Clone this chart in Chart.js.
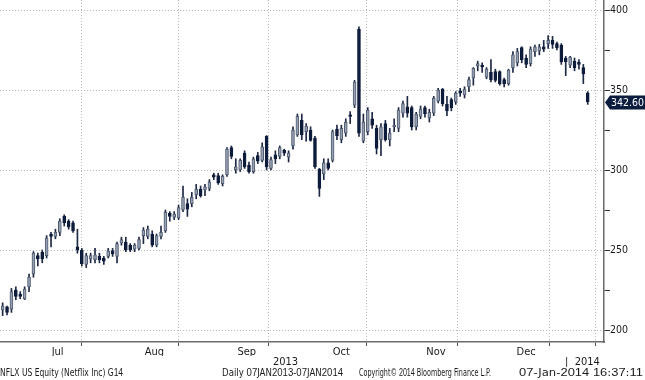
<!DOCTYPE html>
<html>
<head>
<meta charset="utf-8">
<script src="https://cdn.jsdelivr.net/npm/chart.js@4.4.1/dist/chart.umd.min.js"></script>
<style>
html,body{margin:0;padding:0;background:#fff;}
#wrap{position:relative;width:645px;height:380px;overflow:hidden;background:#fff;}
#c{position:absolute;left:0;top:0;}
.ft{position:absolute;top:367px;font:10px "Liberation Sans Narrow","DejaVu Sans Condensed",sans-serif;color:#1a1a1a;white-space:nowrap;line-height:12px;transform-origin:0 0;}
.ft .d{font-family:"Liberation Sans","DejaVu Sans",sans-serif;font-size:10px;}
</style>
</head>
<body>
<div id="wrap">
<canvas id="c" width="645" height="380"></canvas>
<div class="ft" data-l="0" data-w="123">NFLX US Equity (Netflix Inc) G14</div>
<div class="ft" data-l="222" data-w="121">Daily 07JAN2013-07JAN2014</div>
<div class="ft" data-l="359" data-w="132">Copyright© 2014 Bloomberg Finance L.P.</div>
<div class="ft" data-l="519" data-w="124">07-Jan-2014 16:37:11</div>
</div>
<script>
// ---- data ----
const dates = [
"2013-06-27","2013-06-28",
"2013-07-01","2013-07-02","2013-07-03","2013-07-05","2013-07-08","2013-07-09","2013-07-10","2013-07-11","2013-07-12","2013-07-15","2013-07-16","2013-07-17","2013-07-18","2013-07-19","2013-07-22","2013-07-23","2013-07-24","2013-07-25","2013-07-26","2013-07-29","2013-07-30","2013-07-31",
"2013-08-01","2013-08-02","2013-08-05","2013-08-06","2013-08-07","2013-08-08","2013-08-09","2013-08-12","2013-08-13","2013-08-14","2013-08-15","2013-08-16","2013-08-19","2013-08-20","2013-08-21","2013-08-22","2013-08-23","2013-08-26","2013-08-27","2013-08-28","2013-08-29","2013-08-30",
"2013-09-03","2013-09-04","2013-09-05","2013-09-06","2013-09-09","2013-09-10","2013-09-11","2013-09-12","2013-09-13","2013-09-16","2013-09-17","2013-09-18","2013-09-19","2013-09-20","2013-09-23","2013-09-24","2013-09-25","2013-09-26","2013-09-27","2013-09-30",
"2013-10-01","2013-10-02","2013-10-03","2013-10-04","2013-10-07","2013-10-08","2013-10-09","2013-10-10","2013-10-11","2013-10-14","2013-10-15","2013-10-16","2013-10-17","2013-10-18","2013-10-21","2013-10-22","2013-10-23","2013-10-24","2013-10-25","2013-10-28","2013-10-29","2013-10-30","2013-10-31",
"2013-11-01","2013-11-04","2013-11-05","2013-11-06","2013-11-07","2013-11-08","2013-11-11","2013-11-12","2013-11-13","2013-11-14","2013-11-15","2013-11-18","2013-11-19","2013-11-20","2013-11-21","2013-11-22","2013-11-25","2013-11-26","2013-11-27","2013-11-29",
"2013-12-02","2013-12-03","2013-12-04","2013-12-05","2013-12-06","2013-12-09","2013-12-10","2013-12-11","2013-12-12","2013-12-13","2013-12-16","2013-12-17","2013-12-18","2013-12-19","2013-12-20","2013-12-23","2013-12-24","2013-12-26","2013-12-27","2013-12-30","2013-12-31",
"2014-01-02","2014-01-03","2014-01-06","2014-01-07"];

const opens = [212.5,214.5,
213,225,222.5,219.5,227,235,246.5,248.5,246.5,260,258.5,261,271,268,267,252,250,241,244.5,244,246,245,
246,249.5,246,254.5,255,253,250.5,251,259,258.5,260,253,258.5,262,273,270.5,270,275,279,279,284.5,288,
287.5,288.5,297,296.5,291.5,297,314,300,300,310.5,303,299,309,306,321,301,309.5,308.5,312.5,308,
315,322,331,324,325,320,300.5,297.5,304.5,306,325.5,319,323,334.5,340.5,388,318,324,332,326,319,329,319,
327,326,335.5,339.5,339,327,333.5,339,332.5,335.5,343,350.5,341,344,342.5,349.5,347,352,357.5,365,
365.5,358,361,361.5,361.5,356.5,354,364,367,376.5,370,366.5,374,374.5,377,379,381,379,378,370,365.5,
368,367.5,364,348];
const highs = [217,215,
226,227,224,227,235,249,248,250,259,261,263,269.5,272,269,268,263,251,248,248,251,248,246,
251,251,255,258,258,254,254,258,264,265,262,260,265,275,274,274,278,290,282,286,291,290,
291,294,298,298,297,314,315,307,307,312,305,308,311,317,321.5,308,312,315,313,312,
327,335,335,329,327,321,301,307,307,325,328,328,332,336.5,356,389.5,335,339,336,328,329,331,326,
332,339,343,346,340,336,340,340,338,346,351,351,346,345,349,351,352,358,364,368,
367,364,369,363,362,357.5,363,374,376,377,372,377,378,378.5,381,384,383.5,380,379,371,371,
370,369,366,349];
const lows = [209,209.5,
211,219,219.5,219,224,233,240,242,245,252,257,259,265,263,261,248,240,239,242,242,242,241,
245,246,242,253,249,249,249,250,254,257,252,252,257,261,268,269,269,274,271,277,282,283,
284,287,294,291,290,296,307,298,299,301,298,298,304,305,300,300,304,307,309,305,
313,321,319,318,318,301,283.5,294,300,305,319,317,321,329,339,321,317,322,326,310,309,318,315,
324,324,333,333,325,325,332,333,330,334,342,340,334,337,341,346,345,349,353,362,
361,357,355,355,353,352,353,361,365,367,364,365,371,372,374,376,376,375,366,359,364,
362,363,354,341];
const closes = [215,211,
224,221,221,225.5,233,248,244.5,244.5,257.5,258.5,261,268,267,264.5,262,250,241.5,246.5,246.5,247,244,243,
249.5,247.5,254,256.5,250,250,253,256.5,262.5,263,253,259,261,273.5,271,272.5,276.5,283,275.5,283,288,284,
289.5,292.5,295.5,292,296,313,308.5,302,306,302,299,307,305.5,314.5,302,306.5,307,314,310.5,310.5,
325,333.5,322,327.5,318.5,302,288.5,304.5,301,324,321.5,326,330,333.5,355,323,330,337.5,328,313.5,327,319,323,
328,337.5,341.5,335.5,327,335,338,335,336,345,350,341.5,337,339,348,348,350.5,356.5,363.5,366.5,
364.5,363,356.5,356,354,354,362.5,372,374,369,366,375.5,377,377,375.5,381,378.5,376.5,367.5,367.5,370.5,
364,366,360,342.6];

// axis labelling
const monthLabels = ["Jul","Aug","Sep","Oct","Nov","Dec"];
const monthStarts = ["2013-07-01","2013-08-01","2013-09-03","2013-10-01","2013-11-01","2013-12-02","2014-01-02"];
const yearLabels = ["2013","|  2014"];
const priceTicks = [200,225,250,275,300,325,350,375,400];
const priceLabelStep = 50;

// ---- derived ----
const Y_MIN = 192.5, Y_MAX = 406.25;
const X_MIN = -0.6, X_MAX = 136.7;
const startIdx = monthStarts.map(d => dates.indexOf(d));
const boundaries = startIdx.map(i => i - 0.5);
const mids = monthLabels.map((m, k) => (boundaries[k] + boundaries[k + 1]) / 2);
const monthTickVals = boundaries.concat(mids).sort((a, b) => a - b);
const labelAt = {};
mids.forEach((v, k) => { labelAt[v.toFixed(2)] = monthLabels[k]; });
const yearTickVals = [
  (boundaries[0] + boundaries[boundaries.length - 1]) / 2 - 1.2,
  dates.length - 1 - 1.2
];
const yTickVals = [Y_MIN].concat(priceTicks, [Y_MAX]);
const isPriceTick = v => priceTicks.indexOf(v) >= 0;

const bodyData = dates.map((d, i) => ({x: i, y: [opens[i], closes[i]]}));
const wickData = dates.map((d, i) => ({x: i, y: [lows[i], highs[i]]}));
const isUp = dates.map((d, i) => closes[i] >= opens[i]);

const FONT = '"Liberation Sans Narrow","DejaVu Sans Condensed",sans-serif';

const lastLabel = {
  id: 'lastLabel',
  afterDraw(chart) {
    const ys = chart.scales.y;
    const ctx = chart.ctx;
    const v = closes[closes.length - 1];
    const py = Math.round(ys.getPixelForValue(v)) + 0.5;
    const x0 = chart.chartArea.right + 1;
    ctx.save();
    ctx.fillStyle = '#0b1c3f';
    ctx.beginPath();
    ctx.moveTo(x0, py);
    ctx.lineTo(x0 + 5, py - 7);
    ctx.lineTo(chart.width, py - 7);
    ctx.lineTo(chart.width, py + 7);
    ctx.lineTo(x0 + 5, py + 7);
    ctx.closePath();
    ctx.fill();
    ctx.fillStyle = '#ffffff';
    ctx.font = '10.5px ' + FONT;
    ctx.textBaseline = 'middle';
    ctx.textAlign = 'left';
    ctx.fillText(v.toFixed(2), x0 + 6, py + 0.5);
    ctx.restore();
  }
};

new Chart(document.getElementById('c'), {
  type: 'bar',
  data: {
    datasets: [
      {
        label: 'body',
        data: bodyData,
        grouped: false,
        order: 1,
        barThickness: 3,
        minBarLength: 1.5,
        borderWidth: 1,
        borderSkipped: false,
        backgroundColor: ctx => isUp[ctx.dataIndex] ? '#96a0ae' : '#0e1c3c',
        borderColor: ctx => isUp[ctx.dataIndex] ? '#4f5b73' : '#0e1c3c'
      },
      {
        label: 'wick',
        data: wickData,
        grouped: false,
        order: 2,
        barThickness: 1,
        borderWidth: 0,
        backgroundColor: '#1d2844'
      }
    ]
  },
  plugins: [lastLabel],
  options: {
    responsive: false,
    animation: false,
    devicePixelRatio: 1,
    layout: {padding: {left: 0, top: 0, right: 0, bottom: 13}},
    plugins: {legend: {display: false}, tooltip: {enabled: false}, title: {display: false}},
    scales: {
      x: {
        type: 'linear',
        position: 'bottom',
        min: X_MIN, max: X_MAX,
        offset: false,
        afterBuildTicks: s => { s.ticks = monthTickVals.map(v => ({value: v})); },
        afterFit: s => { s.height = 14; },
        ticks: {
          autoSkip: false, maxRotation: 0, padding: 0,
          color: '#1a1a1a',
          font: {family: FONT, size: 11},
          callback: v => labelAt[Number(v).toFixed(2)] || ''
        },
        grid: {
          drawOnChartArea: true, drawTicks: true, tickLength: 4,
          color: c => (c.tick && labelAt[Number(c.tick.value).toFixed(2)]) ? 'rgba(0,0,0,0)' : '#b9b9b9',
          tickColor: c => (c.tick && labelAt[Number(c.tick.value).toFixed(2)]) ? 'rgba(0,0,0,0)' : '#555',
          lineWidth: 1
        },
        border: {display: true, color: '#6a6a6a', width: 1.5, dash: [1, 2]}
      },
      x2: {
        type: 'linear',
        position: 'bottom',
        min: X_MIN, max: X_MAX,
        offset: false,
        afterBuildTicks: s => { s.ticks = yearTickVals.map(v => ({value: v})); },
        afterFit: s => { s.height = 11; },
        ticks: {
          autoSkip: false, maxRotation: 0, padding: 0,
          color: '#1a1a1a',
          font: {family: FONT, size: 11},
          callback: (v, i) => yearLabels[i]
        },
        grid: {display: false, drawTicks: false},
        border: {display: false}
      },
      y: {
        type: 'linear',
        position: 'right',
        min: Y_MIN, max: Y_MAX,
        afterBuildTicks: s => { s.ticks = yTickVals.map(v => ({value: v})); },
        afterFit: s => { s.width = 41; },
        ticks: {
          autoSkip: false, padding: 0,
          color: '#1a1a1a',
          font: {family: FONT, size: 10.5},
          callback: v => isPriceTick(v) ? (v % priceLabelStep === 0 ? String(v) : '') : []
        },
        grid: {
          drawOnChartArea: true, drawTicks: true, tickLength: 6,
          color: c => (c.tick && isPriceTick(c.tick.value) && c.tick.value % priceLabelStep === 0) ? '#b9b9b9' : 'rgba(0,0,0,0)',
          tickColor: c => (c.tick && isPriceTick(c.tick.value)) ? '#333' : 'rgba(0,0,0,0)',
          lineWidth: 1
        },
        border: {display: true, color: '#6a6a6a', width: 1.5, dash: [1, 2]}
      }
    }
  }
});

// footer: wide tabular digits, narrow letters (as in the reference), fitted to measured extents
document.querySelectorAll('.ft').forEach(el => {
  const txt = el.textContent;
  el.textContent = '';
  txt.split(/(\d+)/).forEach(part => {
    if (!part) return;
    if (/^\d+$/.test(part)) {
      const s = document.createElement('span');
      s.className = 'd';
      s.textContent = part;
      el.appendChild(s);
    } else {
      el.appendChild(document.createTextNode(part));
    }
  });
  const target = Number(el.dataset.w);
  const w = el.getBoundingClientRect().width;
  el.style.left = el.dataset.l + 'px';
  if (w > 0) el.style.transform = 'scaleX(' + (target / w).toFixed(3) + ')';
});
</script>
</body>
</html>
